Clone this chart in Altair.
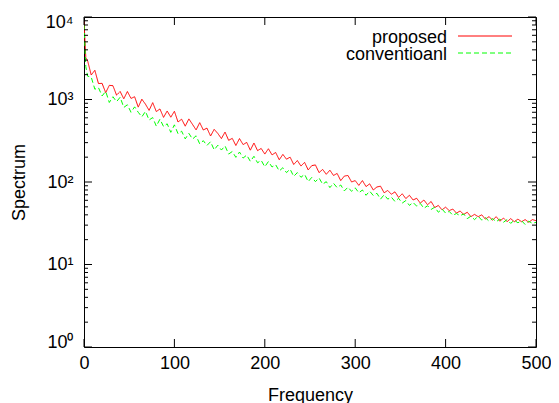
import altair as alt
import pandas as pd

SERIES = ["proposed", "conventioanl"]
COLORS = ["#ff0000", "#00ff00"]
FREQ = [0, 2] + list(range(4, 501, 4))
PROPOSED = [8900, 3200, 2950, 1980, 2260, 1560, 1570, 1210, 1485, 1470, 1130, 1250, 1020, 1250,
            1030, 1080, 808, 1008, 877, 738, 916, 714, 768, 607, 726, 610, 720, 534, 577, 475,
            582, 500, 428, 524, 427, 450, 361, 435, 388, 336, 403, 320, 338, 277, 336, 284,
            302, 243, 297, 240, 255, 218, 253, 213, 228, 186, 216, 189, 200, 163, 182, 156,
            173, 140, 158, 161, 130, 142, 124, 139, 120, 127, 104, 118, 120, 100, 104, 91,
            104, 88, 95, 80, 87, 89, 74, 79, 71, 76, 65, 72, 63, 69, 60.5, 63.5, 55.5,
            60.5, 53, 58, 49, 52, 46, 49.5, 45, 47, 42, 44.5, 40.5, 43, 38, 40.5, 38,
            40, 35.5, 38, 34.5, 38, 33.5, 36.5, 33, 36, 33, 35.5, 33, 35, 32.5, 35, 34]
CONVENTIONAL = [8000, 2500, 1920, 1870, 1332, 1393, 1105, 1254, 920, 1081, 941, 1066, 801, 863,
                700, 814, 700, 616, 718, 564, 604, 475, 577, 470, 508, 400, 493, 385, 413, 333,
                389, 331, 363, 290, 317, 277, 308, 245, 279, 244, 274, 218, 234, 199, 231, 195,
                212, 178, 205, 171, 183, 153, 177, 152, 162, 136, 149, 130, 143, 117, 130, 114,
                124, 101, 114, 101, 112, 94, 101, 85.5, 96.5, 85.5, 92, 78, 86.5, 77, 85, 74,
                80, 69, 77.5, 68.5, 73, 62, 70, 62, 65.5, 58, 63.5, 55.5, 59.5, 52, 56.5, 51, 55,
                48, 51.5, 46.5, 49.5, 43, 47, 42, 44, 39.5, 41.5, 39, 41, 36, 38.5, 35, 38.5,
                34.5, 37, 33.5, 36, 33, 35.5, 32.5, 35, 31.5, 34.5, 32, 34, 30.5, 33.5, 31.5, 32.5]
X_TICKS = [0, 100, 200, 300, 400, 500]
Y_TICKS = [1, 10, 100, 1000, 10000]

assert len(PROPOSED) == len(FREQ) and len(CONVENTIONAL) == len(FREQ)

W, H = 452, 330
FONT = "Liberation Sans"
FS = 18

df = pd.DataFrame({
    "freq": FREQ * 2,
    "value": PROPOSED + CONVENTIONAL,
    "series": [SERIES[0]] * len(FREQ) + [SERIES[1]] * len(FREQ),
})

xscale = alt.Scale(domain=[0, 500], nice=False, zero=False)
yscale = alt.Scale(type="log", domain=[1, 10000], nice=False)
color_scale = alt.Scale(domain=SERIES, range=COLORS)
dash_scale = alt.Scale(domain=SERIES, range=[[1, 0], [5, 3]])

X_AXIS = alt.Axis(values=X_TICKS, title="Frequency", ticks=False, tickSize=0,
                  domain=False, grid=False, labelPadding=7, labelFlush=False, titleY=53,
                  titleBaseline="alphabetic")
Y_AXIS = alt.Axis(values=Y_TICKS, title="Spectrum", ticks=False, tickSize=0,
                  domain=False, grid=False, labelPadding=11, labelFlush=True,
                  labelFlushOffset=4,
                  labelExpr="'10' + ['⁰','¹','²','³','⁴'][round(log(datum.value)/LN10)]",
                  titleX=-65, titleBaseline="middle")

lines = alt.Chart(df).mark_line(strokeWidth=1, clip=True).encode(
    x=alt.X("freq:Q", scale=xscale, axis=X_AXIS, title="Frequency"),
    y=alt.Y("value:Q", scale=yscale, axis=Y_AXIS, title="Spectrum"),
    color=alt.Color("series:N", scale=color_scale, legend=None),
    strokeDash=alt.StrokeDash("series:N", scale=dash_scale, legend=None),
)

# inward tick marks (gnuplot style, mirrored on all sides)
ytick_rows = []
for k in range(4):
    for m in range(1, 10):
        ytick_rows.append({"value": m * 10 ** k, "len": 8 if m == 1 else 4})
ytick_rows.append({"value": 10000, "len": 8})
ydf = pd.DataFrame(ytick_rows)
ydf["rx"] = W - ydf["len"]

xdf = pd.DataFrame({"freq": X_TICKS, "len": [8] * len(X_TICKS)})
xdf["by"] = H - xdf["len"]

tick_left = alt.Chart(ydf).mark_rule(color="black", strokeWidth=1).encode(
    y=alt.Y("value:Q", scale=yscale, axis=Y_AXIS, title="Spectrum"),
    x=alt.X("len:Q", scale=None), x2=alt.value(0))
tick_right = alt.Chart(ydf).mark_rule(color="black", strokeWidth=1).encode(
    y=alt.Y("value:Q", scale=yscale, axis=Y_AXIS, title="Spectrum"),
    x=alt.X("rx:Q", scale=None), x2=alt.value(W))
tick_bottom = alt.Chart(xdf).mark_rule(color="black", strokeWidth=1).encode(
    x=alt.X("freq:Q", scale=xscale, axis=X_AXIS, title="Frequency"),
    y=alt.Y("by:Q", scale=None), y2=alt.value(H))
tick_top = alt.Chart(xdf).mark_rule(color="black", strokeWidth=1).encode(
    x=alt.X("freq:Q", scale=xscale, axis=X_AXIS, title="Frequency"),
    y=alt.Y("len:Q", scale=None), y2=alt.value(0))

legend_layers = []
for i, name in enumerate(SERIES):
    ldf = pd.DataFrame({"series": [name]})
    ly = 21 + 17 * i
    legend_layers.append(
        alt.Chart(ldf).mark_text(align="right", baseline="middle", font=FONT, fontSize=FS,
                                 color="black").encode(
            x=alt.value(363), y=alt.value(ly), text="series:N"))
    legend_layers.append(
        alt.Chart(ldf).mark_rule(strokeWidth=1, strokeDash=[1, 0] if i == 0 else [5, 3]).encode(
            x=alt.value(374), x2=alt.value(428), y=alt.value(ly - 2),
            color=alt.Color("series:N", scale=color_scale, legend=None)))

chart = alt.layer(lines, tick_left, tick_right, tick_bottom, tick_top, *legend_layers).properties(
    width=W, height=H,
    autosize=alt.AutoSizeParams(type="none"),
    padding={"left": 76, "top": 9, "right": 15, "bottom": 56},
).configure_view(
    stroke="black", strokeWidth=1
).configure_axis(
    labelFont=FONT, titleFont=FONT, labelFontSize=FS, titleFontSize=FS,
    labelColor="black", titleColor="black", titleFontWeight="normal",
)

chart.save("out.html", embed_options={"renderer": "svg", "actions": False})
